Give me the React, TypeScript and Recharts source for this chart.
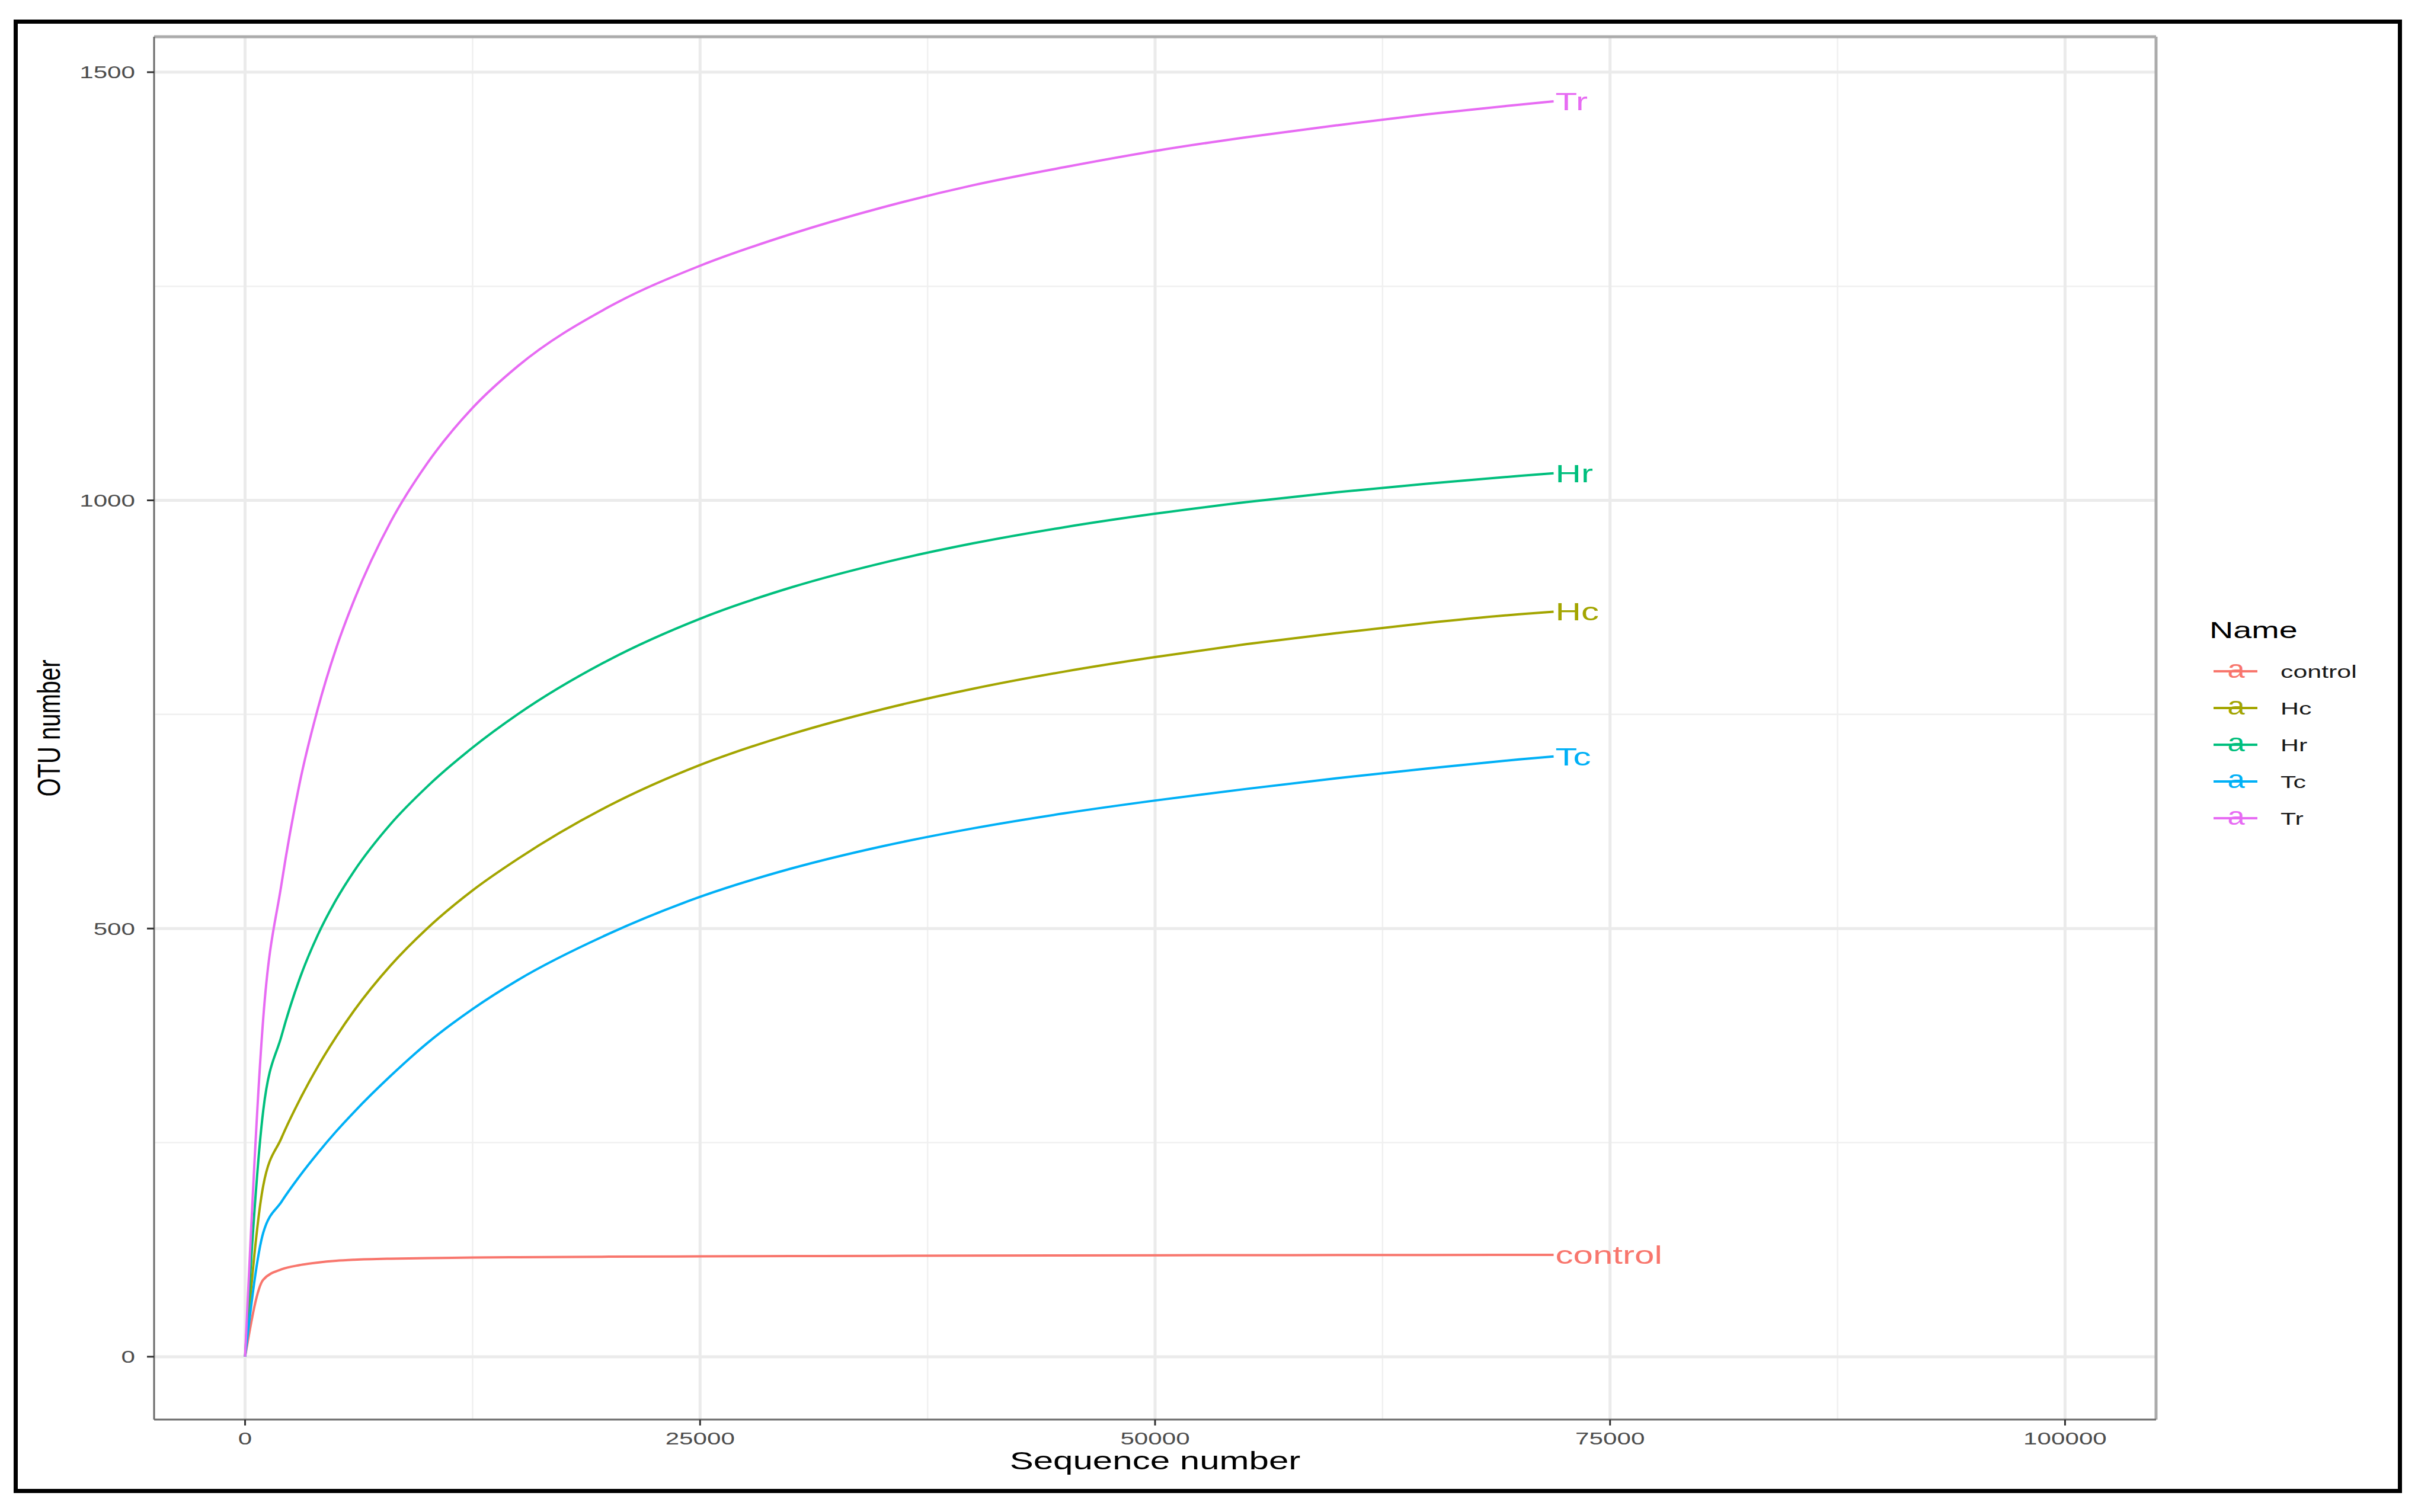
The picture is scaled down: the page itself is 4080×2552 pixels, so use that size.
import React from 'react';
import { LineChart, Line, XAxis, YAxis, ReferenceLine, Legend, LabelList } from 'recharts';

// rarefaction sampling depths (sequence number)
const seqNumbers = [0, 1000, 2000, 3000, 4000, 5000, 6000, 8000, 10000, 12500, 15000, 20000, 25000, 30000, 35000, 40000, 45000, 50000, 55000, 60000, 65000, 70000, 71900];

// OTU number per group
const control = [0, 90, 102, 107, 110, 112, 113.2, 114.5, 115.2, 115.8, 116.2, 116.8, 117.2, 117.5, 117.8, 118, 118.2, 118.4, 118.6, 118.7, 118.8, 118.9, 119];
const hc = [0, 200, 255.5, 300, 339, 373.5, 404.5, 457, 500, 544.5, 581.5, 643.5, 691, 727, 756, 780, 800, 817, 832, 845, 857, 867, 870];
const hr = [0, 288, 374.6, 441.5, 492.7, 533.5, 567.4, 622.1, 665.6, 711.3, 750.5, 813.8, 861.8, 898.3, 926.8, 949.8, 968.6, 984.4, 997.9, 1009.5, 1019.6, 1028.5, 1031.6];
const tc = [0, 145, 181, 211, 238, 263, 286, 328, 366, 406, 440, 494, 537, 570, 596, 617, 634.5, 649.5, 663, 675.5, 687, 697.5, 701];
const tr = [0, 396, 552, 670, 757, 827, 884, 975, 1043, 1108, 1157, 1226, 1274, 1311, 1342, 1368, 1389, 1408, 1424, 1438, 1451, 1462, 1466];

const groups = ['control', 'Hc', 'Hr', 'Tc', 'Tr'];
const groupValues = [control, hc, hr, tc, tr];
const groupColors = ['#F8766D', '#A3A500', '#00BF7D', '#00B0F6', '#E76BF3'];

const xTicks = [0, 25000, 50000, 75000, 100000];
const xMinor = [12500, 37500, 62500, 87500];
const yTicks = [0, 500, 1000, 1500];
const yMinor = [250, 750, 1250];

const data = seqNumbers.map((x, i) => {
  const row: Record<string, number> = { x };
  groups.forEach((g, k) => {
    row[g] = groupValues[k][i];
  });
  return row;
});

const FONT = '"Liberation Sans", Arial, Helvetica, sans-serif';
const SX = 1.43; // the figure is stretched horizontally

const XTick = (props: any) => {
  const { x, y, payload } = props;
  return (
    <g transform={`translate(${x},${y})`}>
      <text transform={`scale(${SX},1)`} y={21} textAnchor="middle" fontSize={29.5} fill="#4D4D4D" fontFamily={FONT}>
        {payload.value}
      </text>
    </g>
  );
};

const YTick = (props: any) => {
  const { x, y, payload } = props;
  return (
    <g transform={`translate(${x},${y})`}>
      <text transform={`scale(${SX},1)`} y={10.5} textAnchor="end" fontSize={29.5} fill="#4D4D4D" fontFamily={FONT}>
        {payload.value}
      </text>
    </g>
  );
};

const XTitle = (props: any) => {
  const { viewBox } = props;
  const cx = viewBox.x + viewBox.width / 2;
  return (
    <g transform={`translate(${cx},${viewBox.y + 84})`}>
      <text transform={`scale(${SX},1)`} textAnchor="middle" fontSize={42} fill="#000" fontFamily={FONT}>
        Sequence number
      </text>
    </g>
  );
};

const YTitle = (props: any) => {
  const { viewBox } = props;
  const cy = viewBox.y + viewBox.height / 2;
  return (
    <g transform={`translate(${viewBox.x + 62},${cy}) rotate(-90) scale(1,1.35)`}>
      <text textAnchor="middle" y={14} fontSize={40} fill="#000" fontFamily={FONT}>
        OTU number
      </text>
    </g>
  );
};

const endLabel = (name: string, color: string) => (props: any) => {
  const { x, y, index } = props;
  if (index !== seqNumbers.length - 1) return null;
  return (
    <g transform={`translate(${x + 3},${y})`}>
      <text transform={`scale(${SX},1)`} y={15} fontSize={42} fill={color} fontFamily={FONT}>
        {name}
      </text>
    </g>
  );
};

const renderLegend = (props: any) => {
  // keep the factor order of the groups, not alphabetical
  const items = [...(props.payload || [])].sort(
    (a: any, b: any) => groups.indexOf(a.value) - groups.indexOf(b.value)
  );
  return (
    <svg width={360} height={420} style={{ display: 'block' }}>
      <g transform="translate(28,57)">
        <text transform={`scale(${SX},1)`} fontSize={39} fill="#000" fontFamily={FONT}>Name</text>
      </g>
      {items.map((it: any, i: number) => {
        const cy = 113 + i * 62;
        return (
          <g key={it.value}>
            <line x1={35} x2={109} y1={cy} y2={cy} stroke={it.color} strokeWidth={4} />
            <g transform={`translate(73,${cy + 11})`}>
              <text transform="scale(1.25,1)" textAnchor="middle" fontSize={42} fill={it.color} fontFamily={FONT}>a</text>
            </g>
            <g transform={`translate(148,${cy + 11})`}>
              <text transform={`scale(${SX},1)`} fontSize={30} fill="#1A1A1A" fontFamily={FONT}>{it.value}</text>
            </g>
          </g>
        );
      })}
    </svg>
  );
};

export default function App() {
  return (
    <div style={{ position: 'absolute', left: 0, top: 0, width: 4080, height: 2552, background: '#fff' }}>
      <div
        style={{
          position: 'absolute',
          left: 23,
          top: 33,
          width: 4030,
          height: 2487,
          boxSizing: 'border-box',
          border: '7px solid #000',
        }}
      />
      <div style={{ position: 'absolute', left: 0, top: 0 }}>
        <LineChart width={4080} height={2552} data={data} margin={{ top: 62, right: 442, left: 20, bottom: 16 }}>
          <XAxis
            dataKey="x"
            type="number"
            domain={[-5000, 105000]}
            ticks={xTicks}
            allowDataOverflow
            tick={<XTick />}
            tickSize={10}
            tickMargin={11}
            height={140}
            axisLine={{ stroke: '#6B6B6B', strokeWidth: 3 }}
            tickLine={{ stroke: '#333333', strokeWidth: 3 }}
            label={<XTitle />}
          />
          <YAxis
            type="number"
            domain={[-73.4, 1541.4]}
            ticks={yTicks}
            allowDataOverflow
            tick={<YTick />}
            tickSize={12}
            tickMargin={20}
            width={240}
            axisLine={{ stroke: '#6B6B6B', strokeWidth: 3 }}
            tickLine={{ stroke: '#333333', strokeWidth: 3 }}
            label={<YTitle />}
          />
          {yMinor.map((v) => (
            <ReferenceLine key={`ym${v}`} y={v} stroke="#F0F0F0" strokeWidth={2.5} />
          ))}
          {xMinor.map((v) => (
            <ReferenceLine key={`xm${v}`} x={v} stroke="#F0F0F0" strokeWidth={2.5} />
          ))}
          {yTicks.map((v) => (
            <ReferenceLine key={`yM${v}`} y={v} stroke="#EBEBEB" strokeWidth={5} />
          ))}
          {xTicks.map((v) => (
            <ReferenceLine key={`xM${v}`} x={v} stroke="#EBEBEB" strokeWidth={5} />
          ))}
          <ReferenceLine y={1541.4} stroke="#ABABAB" strokeWidth={5} />
          <ReferenceLine x={105000} stroke="#ABABAB" strokeWidth={5} />
          {groups.map((g, k) => (
            <Line
              key={g}
              type="monotone"
              dataKey={g}
              name={g}
              stroke={groupColors[k]}
              strokeWidth={4}
              dot={false}
              activeDot={false}
              isAnimationActive={false}
            >
              <LabelList dataKey={g} content={endLabel(g, groupColors[k])} />
            </Line>
          ))}
          <Legend
            layout="vertical"
            align="center"
            verticalAlign="middle"
            wrapperStyle={{ left: 3700, top: 1020, width: 360, height: 420 }}
            content={renderLegend}
          />
        </LineChart>
      </div>
    </div>
  );
}
